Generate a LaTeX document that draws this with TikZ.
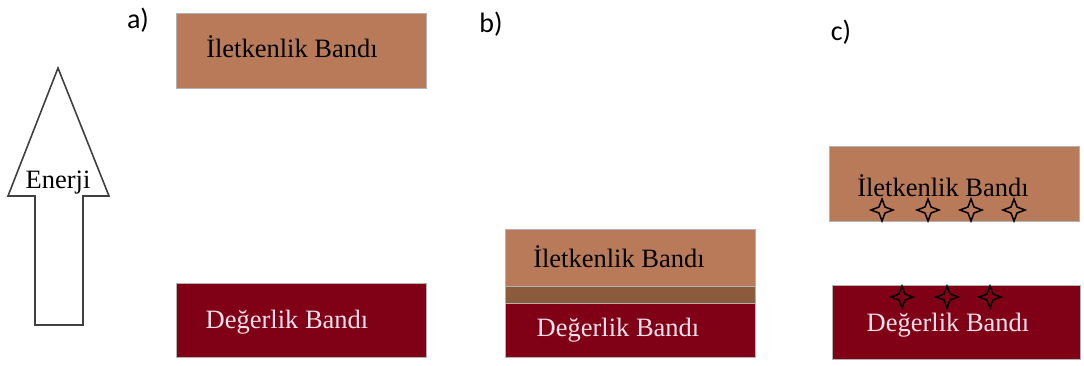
\documentclass[tikz,border=0pt]{standalone}
\usepackage{fontspec}
\setmainfont{Liberation Serif}
\newfontfamily\labfont{Carlito}
\definecolor{condc}{RGB}{185,122,90}
\definecolor{valc}{RGB}{128,0,22}
\definecolor{midc}{RGB}{140,90,60}
\definecolor{valtext}{RGB}{245,225,235}
\tikzset{
  band/.style={draw=gray!60, line width=0.8pt},
  bandtext/.style={font=\fontsize{26.5}{29}\selectfont, inner sep=0pt, anchor=center},
  panellabel/.style={font=\labfont\fontsize{28}{30}\selectfont, inner sep=0pt, anchor=center},
  starshape/.style={draw=black, line width=1.5pt, line join=miter}
}
\newcommand{\fourstar}[2]{%
  \draw[starshape] (#1+11,#2) -- (#1+3,#2-3) -- (#1,#2-11) -- (#1-3,#2-3) -- (#1-11,#2) -- (#1-3,#2+3) -- (#1,#2+11) -- (#1+3,#2+3) -- cycle;}
\begin{document}
\begin{tikzpicture}[x=1pt,y=-1pt]
\useasboundingbox (0,0) rectangle (1084,365);
% Arrow
\draw[line width=1.6pt, draw=black!75, line join=miter] (58,68) -- (109,196) -- (83,196) -- (83,325) -- (35,325) -- (35,196) -- (8,196) -- cycle;
\node[bandtext] (enerji) at (58,183) {Enerji};
% a)
\node[panellabel] (la) at (138,20) {a)};
\filldraw[band, fill=condc] (176,13) rectangle (426,88);
\node[bandtext] (ia) at (292,47) {İletkenlik Bandı};
\filldraw[band, fill=valc] (176,283) rectangle (426,357);
\node[bandtext, text=valtext] (da) at (287,322) {Değerlik Bandı};
% b)
\node[panellabel] (lb) at (491,24) {b)};
\filldraw[band, fill=condc] (505,229) rectangle (755,286);
\filldraw[band, fill=midc] (505,286) rectangle (755,303);
\filldraw[band, fill=valc] (505,303) rectangle (755,357);
\node[bandtext] (ib) at (619,257) {İletkenlik Bandı};
\node[bandtext, text=valtext] (db) at (618,330) {Değerlik Bandı};
% c)
\node[panellabel] (lc) at (841,32) {c)};
\filldraw[band, fill=condc] (829,146) rectangle (1079,221);
\node[bandtext] (ic) at (943,186) {İletkenlik Bandı};
\filldraw[band, fill=valc] (832,285) rectangle (1080,359);
\node[bandtext, text=valtext] (dc) at (948,325) {Değerlik Bandı};
\fourstar{882}{210}
\fourstar{928}{210}
\fourstar{971}{210}
\fourstar{1014}{210}
\fourstar{902}{297}
\fourstar{947}{297}
\fourstar{990}{297}
\end{tikzpicture}
\end{document}
